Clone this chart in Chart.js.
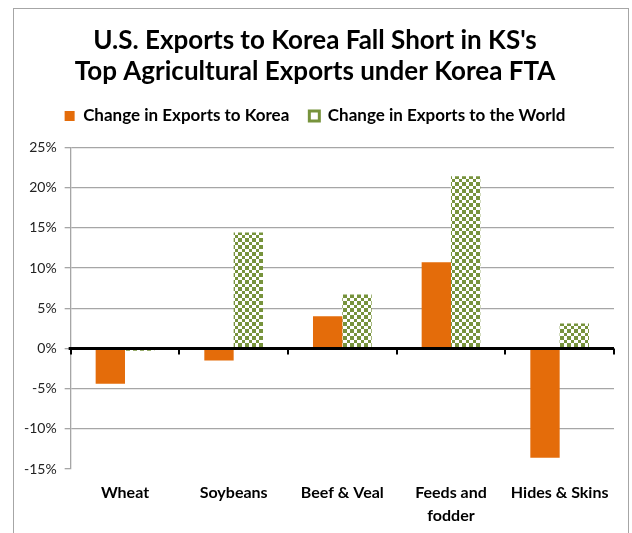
<!DOCTYPE html>
<html>
<head>
<meta charset="utf-8">
<script src="https://cdn.jsdelivr.net/npm/chart.js@4.4.0/dist/chart.umd.min.js"></script>
<style>
  html, body { margin: 0; padding: 0; background: #fff; }
  #wrap { position: relative; width: 632px; height: 533px; overflow: hidden; }
  #frame { position: absolute; left: 13px; top: 8px; width: 614px; height: 560px; border: 1px solid #a6a6a6; }
  #cv { position: absolute; left: 0; top: 0; }
</style>
</head>
<body>
<div id="wrap">
  <div id="frame"></div>
  <canvas id="cv" width="632" height="533"></canvas>
</div>
<script>
// Datos del gráfico
const categories = ['Wheat', 'Soybeans', 'Beef & Veal', ['Feeds and', 'fodder'], 'Hides & Skins'];
const koreaChange = [-4.4, -1.5, 4.0, 10.7, -13.6];
const worldChange = [-0.3, 14.4, 6.7, 21.4, 3.1];
const yTicks = [-15, -10, -5, 0, 5, 10, 15, 20, 25];

const orange = '#E46C0A';
const green = '#77933C';
const gridGray = '#a6a6a6';

// Patrón de cuadros para la serie "World"
function checkerPattern() {
    const c = document.createElement('canvas');
    c.width = 7; c.height = 7;
    const g = c.getContext('2d');
    g.fillStyle = '#ffffff';
    g.fillRect(0, 0, 7, 7);
    g.fillStyle = green;
    g.fillRect(0, 0, 4, 4);
    g.fillRect(4, 4, 3, 3);
    return document.getElementById('cv').getContext('2d').createPattern(c, 'repeat');
}

// Línea del cero y marcas de categoría
const zeroLine = {
    id: 'zeroLine',
    afterDatasetsDraw(chart) {
        const ctx = chart.ctx;
        const x = chart.scales.x;
        const y0 = chart.scales.y.getPixelForValue(0);
        const area = chart.chartArea;
        ctx.save();
        ctx.strokeStyle = '#000';
        ctx.lineWidth = 3;
        ctx.beginPath();
        ctx.moveTo(area.left - 2, y0);
        ctx.lineTo(area.right, y0);
        ctx.stroke();
        const half = (x.getPixelForValue(1) - x.getPixelForValue(0)) / 2;
        ctx.lineWidth = 2;
        for (let i = 0; i <= categories.length; i++) {
            const px = Math.round(x.getPixelForValue(0) - half + i * half * 2);
            ctx.beginPath();
            ctx.moveTo(px, y0);
            ctx.lineTo(px, y0 + 6);
            ctx.stroke();
        }
        ctx.restore();
    }
};

const chart = new Chart(document.getElementById('cv'), {
    type: 'bar',
    data: {
        labels: categories,
        datasets: [{
            label: 'Change in Exports to Korea',
            data: koreaChange,
            backgroundColor: orange,
            borderWidth: 0,
            barPercentage: 1.0,
            categoryPercentage: 0.54
        }, {
            label: 'Change in Exports to the World',
            data: worldChange,
            backgroundColor: checkerPattern(),
            borderWidth: 0,
            barPercentage: 1.0,
            categoryPercentage: 0.54
        }]
    },
    plugins: [zeroLine],
    options: {
        responsive: false,
        animation: false,
        layout: { padding: { left: 16, right: 18, top: 25, bottom: 0 } },
        plugins: {
            title: {
                display: true,
                text: ["U.S. Exports to Korea Fall Short in KS's", 'Top Agricultural Exports under Korea FTA'],
                color: '#000',
                font: { family: 'Lato', size: 26, weight: 'bold', lineHeight: 1.2 },
                padding: { top: 0, bottom: 0 }
            },
            // espacio vacío entre la leyenda y el gráfico
            subtitle: {
                display: true,
                text: ' ',
                weight: 500,
                font: { size: 1, lineHeight: 1 },
                padding: { top: 12, bottom: 0 }
            },
            legend: {
                position: 'top',
                labels: {
                    color: '#000',
                    font: { family: 'Lato', size: 17, weight: 'bold' },
                    boxWidth: 10,
                    boxHeight: 10,
                    padding: 20,
                    generateLabels(chart) {
                        return chart.data.datasets.map((ds, i) => ({
                            text: ds.label,
                            fillStyle: i === 0 ? orange : '#ffffff',
                            strokeStyle: i === 0 ? orange : green,
                            lineWidth: i === 0 ? 0 : 3,
                            datasetIndex: i,
                            fontColor: '#000'
                        }));
                    }
                }
            },
            tooltip: { enabled: false }
        },
        scales: {
            x: {
                grid: { display: false, drawTicks: false },
                border: { display: false },
                afterFit(scale) { scale.height = 64; },
                ticks: {
                    color: '#000',
                    font: { family: 'Lato', size: 16, weight: 'bold', lineHeight: 1.44 },
                    padding: 12,
                    maxRotation: 0
                }
            },
            y: {
                min: -15,
                max: 25,
                afterBuildTicks(scale) {
                    scale.ticks = yTicks.map(v => ({ value: v }));
                },
                grid: {
                    color: ctx => (ctx.tick && ctx.tick.value === -15) ? 'rgba(0,0,0,0)' : gridGray,
                    tickColor: gridGray,
                    tickLength: 6,
                    lineWidth: 1.3
                },
                border: { color: gridGray, width: 1.3 },
                ticks: {
                    color: '#222',
                    font: { family: 'Lato', size: 14 },
                    padding: 8,
                    callback: v => v + '%'
                }
            }
        }
    }
});
</script>
</body>
</html>
